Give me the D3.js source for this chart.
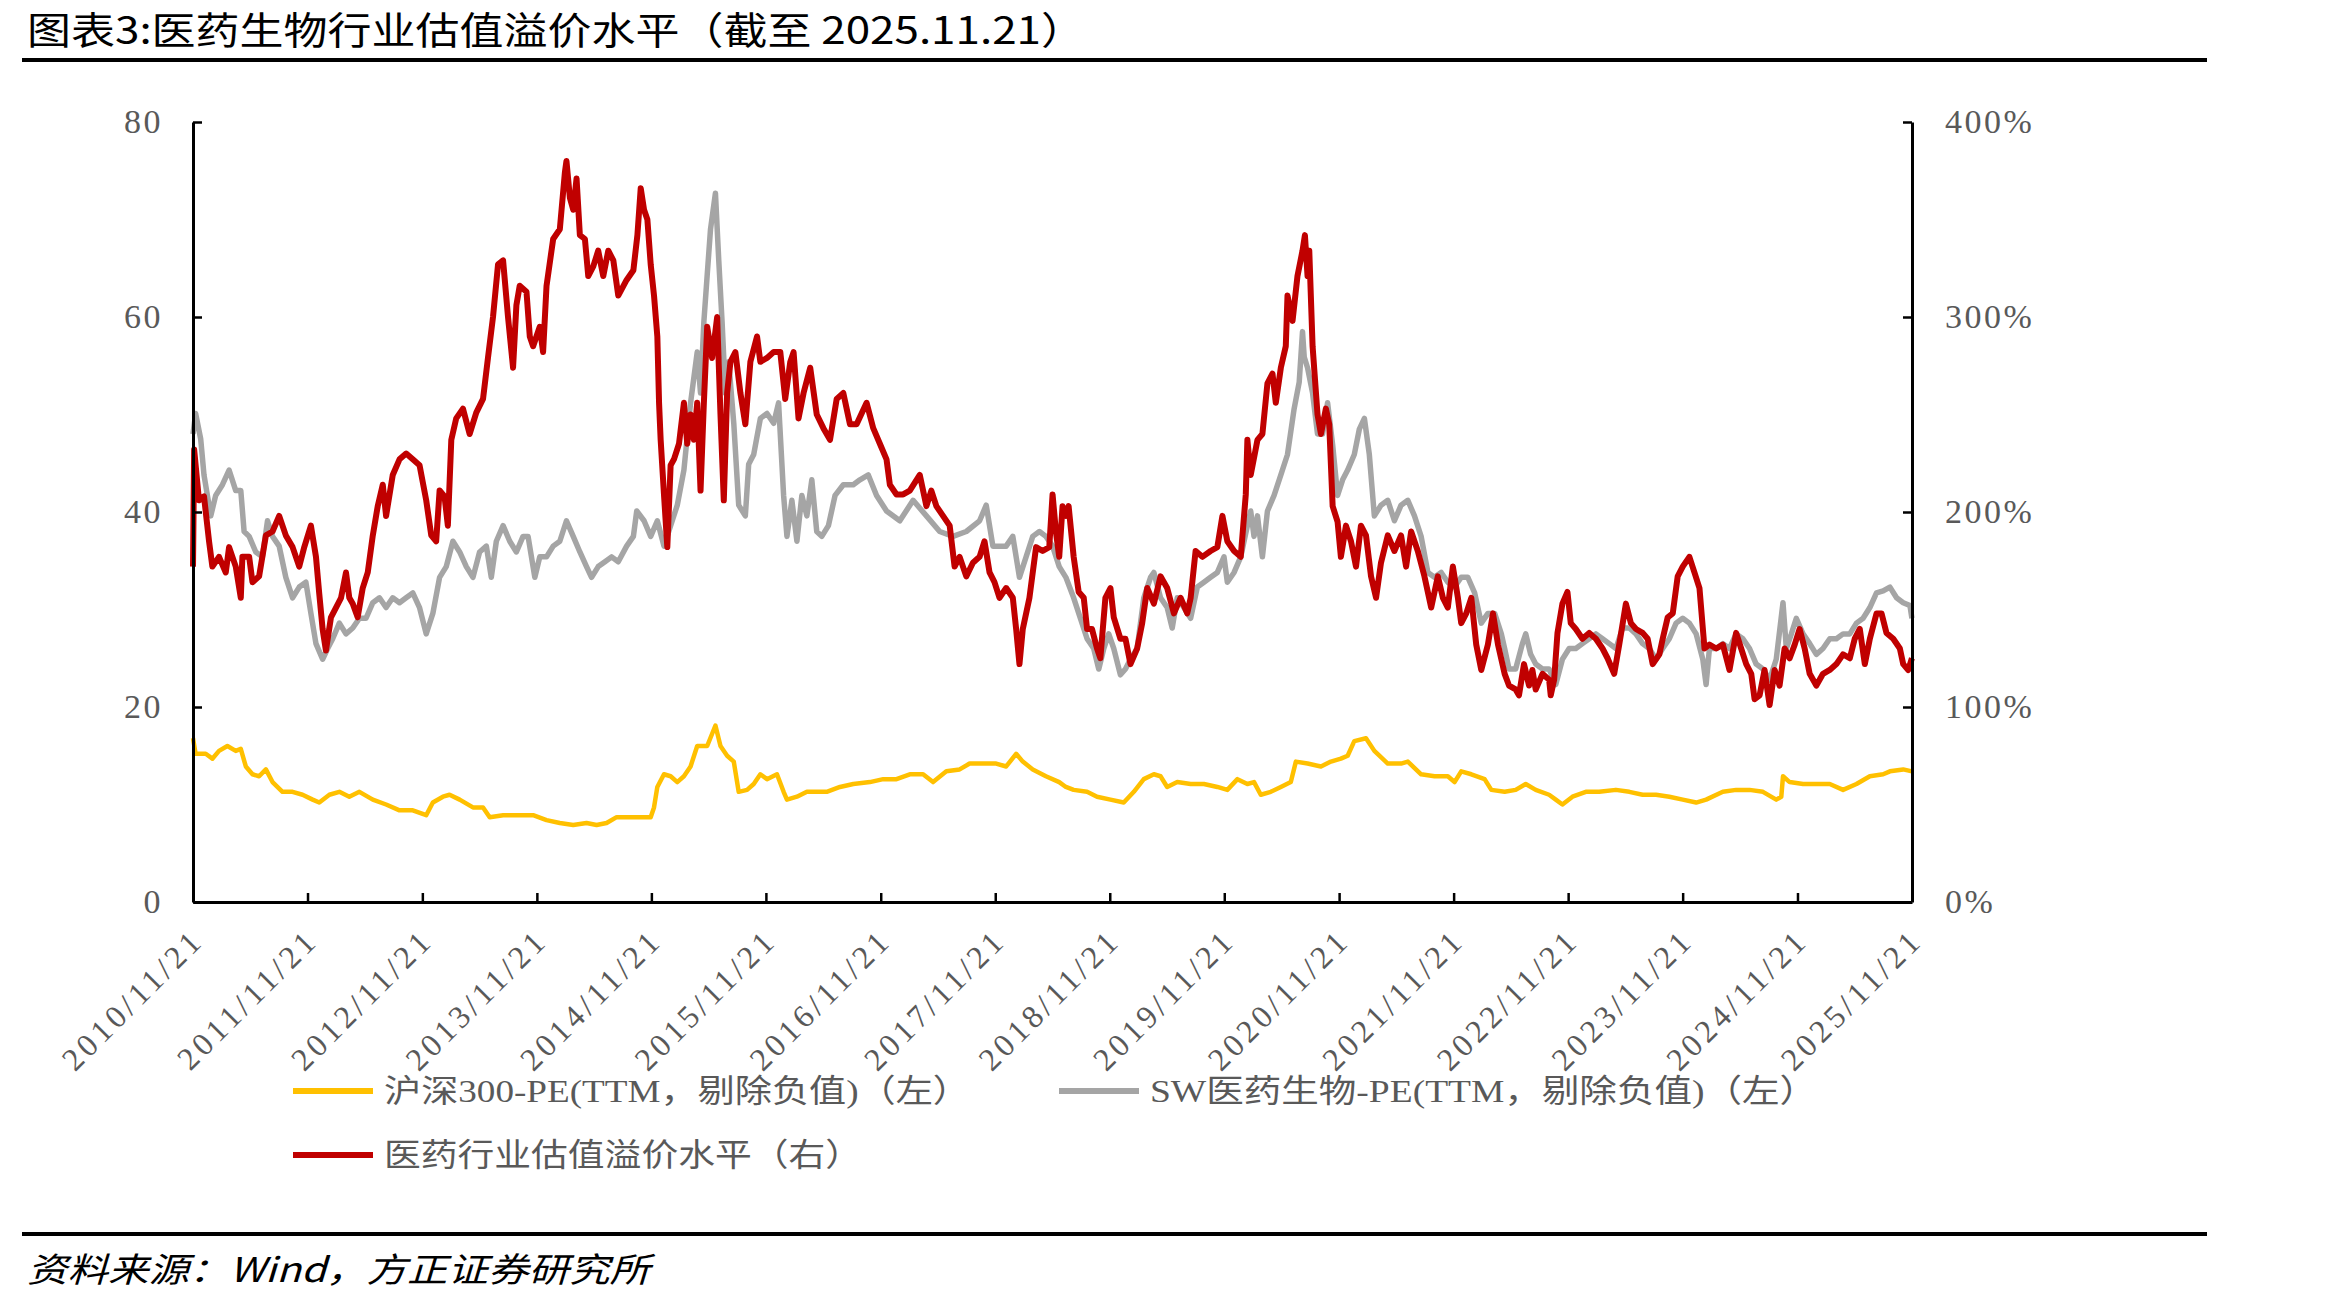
<!DOCTYPE html>
<html><head><meta charset="utf-8">
<script src="https://cdn.jsdelivr.net/npm/d3@7"></script>
<style>
html,body{margin:0;padding:0;background:#fff;}
svg{display:block;}
</style></head>
<body>
<svg id="chart" width="2333" height="1305"></svg>
<script>
// ---------------- DATA ----------------
const titleText = "图表3:医药生物行业估值溢价水平（截至 2025.11.21）";
const sourceText = "资料来源：Wind，方正证券研究所";
const xTickLabels = ["2010/11/21","2011/11/21","2012/11/21","2013/11/21","2014/11/21","2015/11/21","2016/11/21","2017/11/21","2018/11/21","2019/11/21","2020/11/21","2021/11/21","2022/11/21","2023/11/21","2024/11/21","2025/11/21"];
const leftTicks = [0, 20, 40, 60, 80];
const rightTicks = [0, 100, 200, 300, 400];
const legendNames = ["沪深300-PE(TTM，剔除负值)（左）", "SW医药生物-PE(TTM，剔除负值)（左）", "医药行业估值溢价水平（右）"];

// each point: [years since 2010/11/21, value]
// 沪深300-PE (left axis)
const hs300PE = [[0,16.8],[0.023,15.2],[0.111,15.2],[0.169,14.7],[0.227,15.5],[0.300,16.0],[0.373,15.5],[0.417,15.7],[0.461,13.9],[0.519,13.1],[0.577,12.9],[0.636,13.6],[0.694,12.3],[0.781,11.3],[0.869,11.3],[0.956,11.0],[1.044,10.5],[1.102,10.2],[1.190,11.0],[1.277,11.3],[1.364,10.8],[1.452,11.3],[1.569,10.5],[1.685,10.0],[1.802,9.4],[1.918,9.4],[2.035,8.9],[2.093,10.2],[2.181,10.8],[2.239,11.0],[2.327,10.5],[2.443,9.7],[2.531,9.7],[2.589,8.7],[2.706,8.9],[2.822,8.9],[2.968,8.9],[3.085,8.4],[3.201,8.1],[3.318,7.9],[3.434,8.1],[3.522,7.9],[3.609,8.1],[3.697,8.7],[3.784,8.7],[3.872,8.7],[3.994,8.7],[4.023,9.7],[4.052,11.8],[4.110,13.1],[4.168,12.9],[4.226,12.3],[4.284,12.9],[4.342,13.9],[4.400,16.0],[4.487,16.0],[4.559,18.1],[4.603,16.0],[4.661,15.0],[4.719,14.4],[4.762,11.3],[4.835,11.5],[4.893,12.1],[4.951,13.1],[5.009,12.6],[5.096,13.1],[5.154,11.3],[5.183,10.5],[5.270,10.8],[5.357,11.3],[5.443,11.3],[5.530,11.3],[5.646,11.8],[5.762,12.1],[5.907,12.3],[6.023,12.6],[6.139,12.6],[6.255,13.1],[6.371,13.1],[6.458,12.3],[6.574,13.4],[6.690,13.6],[6.777,14.2],[6.893,14.2],[7.009,14.2],[7.096,13.9],[7.183,15.2],[7.241,14.4],[7.328,13.6],[7.443,12.9],[7.559,12.3],[7.617,11.8],[7.685,11.5],[7.802,11.3],[7.889,10.8],[8.006,10.5],[8.122,10.2],[8.210,11.3],[8.297,12.6],[8.385,13.1],[8.443,12.9],[8.501,11.8],[8.589,12.3],[8.706,12.1],[8.822,12.1],[8.939,11.8],[9.026,11.5],[9.114,12.6],[9.201,12.1],[9.259,12.3],[9.318,11.0],[9.405,11.3],[9.493,11.8],[9.580,12.3],[9.624,14.4],[9.726,14.2],[9.843,13.9],[9.930,14.4],[10.017,14.7],[10.076,15.0],[10.134,16.5],[10.236,16.8],[10.309,15.5],[10.426,14.2],[10.542,14.2],[10.601,14.4],[10.717,13.1],[10.834,12.9],[10.950,12.9],[11.009,12.3],[11.067,13.4],[11.155,13.1],[11.271,12.6],[11.330,11.5],[11.446,11.3],[11.542,11.5],[11.630,12.1],[11.717,11.5],[11.834,11.0],[11.892,10.5],[11.950,10.0],[12.038,10.8],[12.154,11.3],[12.271,11.3],[12.417,11.5],[12.534,11.3],[12.650,11.0],[12.767,11.0],[12.883,10.8],[13.000,10.5],[13.117,10.2],[13.204,10.5],[13.350,11.3],[13.466,11.5],[13.583,11.5],[13.700,11.3],[13.816,10.5],[13.860,10.8],[13.875,12.9],[13.933,12.3],[14.050,12.1],[14.166,12.1],[14.283,12.1],[14.399,11.5],[14.516,12.1],[14.633,12.9],[14.749,13.1],[14.808,13.4],[14.924,13.6],[15.0,13.4]];

// SW医药生物-PE (left axis)
const swPharmaPE = [[0,48.0],[0.023,50.1],[0.067,47.5],[0.096,43.8],[0.155,39.6],[0.198,41.7],[0.257,42.8],[0.315,44.3],[0.373,42.2],[0.417,42.2],[0.446,38.0],[0.490,37.5],[0.548,35.9],[0.606,35.4],[0.650,39.1],[0.694,37.5],[0.752,36.5],[0.810,33.3],[0.869,31.2],[0.927,32.3],[0.985,32.8],[1.029,29.6],[1.073,26.5],[1.131,24.9],[1.175,26.0],[1.219,27.0],[1.277,28.6],[1.335,27.5],[1.394,28.1],[1.452,29.1],[1.510,29.1],[1.569,30.7],[1.627,31.2],[1.685,30.2],[1.743,31.2],[1.802,30.7],[1.860,31.2],[1.918,31.7],[1.977,30.2],[2.035,27.5],[2.093,29.6],[2.152,33.3],[2.210,34.4],[2.268,37.0],[2.327,35.9],[2.385,34.4],[2.443,33.3],[2.501,35.9],[2.560,36.5],[2.603,33.3],[2.647,37.0],[2.706,38.6],[2.764,37.0],[2.822,35.9],[2.880,37.5],[2.924,37.5],[2.983,33.3],[3.026,35.4],[3.085,35.4],[3.143,36.5],[3.201,37.0],[3.259,39.1],[3.318,37.5],[3.376,35.9],[3.434,34.4],[3.478,33.3],[3.536,34.4],[3.595,34.9],[3.653,35.4],[3.711,34.9],[3.784,36.5],[3.843,37.5],[3.872,40.1],[3.936,39.1],[3.994,37.5],[4.052,39.1],[4.110,36.5],[4.168,38.6],[4.226,40.7],[4.284,44.3],[4.342,51.2],[4.400,56.4],[4.429,52.2],[4.458,59.5],[4.487,64.3],[4.516,69.0],[4.559,72.7],[4.588,65.8],[4.617,59.5],[4.646,52.2],[4.675,55.4],[4.719,49.1],[4.762,40.7],[4.820,39.6],[4.849,44.9],[4.893,45.9],[4.951,49.6],[5.009,50.1],[5.067,49.1],[5.110,51.2],[5.154,41.7],[5.183,37.5],[5.226,41.2],[5.270,37.0],[5.313,41.7],[5.357,39.6],[5.400,43.3],[5.443,38.0],[5.487,37.5],[5.545,38.6],[5.603,41.7],[5.675,42.8],[5.762,42.8],[5.820,43.3],[5.893,43.8],[5.965,41.7],[6.052,40.1],[6.168,39.1],[6.284,41.2],[6.400,39.6],[6.516,38.0],[6.632,37.5],[6.748,38.0],[6.864,39.1],[6.922,40.7],[6.980,36.5],[7.096,36.5],[7.154,37.5],[7.212,33.3],[7.270,35.4],[7.328,37.5],[7.386,38.0],[7.443,37.5],[7.501,36.5],[7.559,34.4],[7.617,33.3],[7.685,31.2],[7.744,29.1],[7.802,27.0],[7.860,26.0],[7.904,23.9],[7.948,26.0],[7.991,27.5],[8.035,26.0],[8.093,23.3],[8.137,23.9],[8.181,24.9],[8.239,26.0],[8.297,31.2],[8.356,33.3],[8.385,33.8],[8.443,31.2],[8.501,30.2],[8.545,28.1],[8.589,31.2],[8.647,30.2],[8.706,29.1],[8.764,32.3],[8.822,32.8],[8.880,33.3],[8.939,33.8],[8.997,35.4],[9.026,32.8],[9.085,33.8],[9.143,35.4],[9.201,38.6],[9.230,40.1],[9.259,37.5],[9.289,39.6],[9.332,35.4],[9.376,40.1],[9.434,41.7],[9.493,43.8],[9.551,45.9],[9.609,50.6],[9.653,53.3],[9.682,58.5],[9.697,55.9],[9.726,54.8],[9.770,52.2],[9.813,48.0],[9.857,48.0],[9.901,51.2],[9.945,46.9],[9.988,41.7],[10.032,43.3],[10.076,44.3],[10.134,45.9],[10.178,48.5],[10.222,49.6],[10.265,45.9],[10.309,39.6],[10.367,40.7],[10.426,41.2],[10.484,39.1],[10.542,40.7],[10.601,41.2],[10.659,39.6],[10.717,37.5],[10.776,33.8],[10.834,33.3],[10.892,33.8],[10.950,32.8],[11.009,32.3],[11.067,33.3],[11.125,33.3],[11.184,31.7],[11.242,28.6],[11.300,29.6],[11.359,29.6],[11.417,27.5],[11.446,26.0],[11.484,23.9],[11.542,23.9],[11.601,26.5],[11.630,27.5],[11.673,25.4],[11.717,24.4],[11.776,23.9],[11.834,23.9],[11.892,22.3],[11.950,24.9],[12.009,26.0],[12.067,26.0],[12.125,26.5],[12.184,27.0],[12.242,27.5],[12.300,27.0],[12.359,26.5],[12.417,26.0],[12.475,28.1],[12.534,28.1],[12.592,27.5],[12.650,26.5],[12.708,26.0],[12.767,24.9],[12.825,26.0],[12.883,27.0],[12.942,28.6],[13.000,29.1],[13.058,28.6],[13.117,27.5],[13.175,24.9],[13.204,22.3],[13.233,26.0],[13.292,26.0],[13.350,26.5],[13.408,26.0],[13.466,27.5],[13.525,27.0],[13.583,26.0],[13.641,24.4],[13.700,23.9],[13.758,22.8],[13.816,24.9],[13.875,30.7],[13.904,26.0],[13.948,27.5],[13.991,29.1],[14.050,27.5],[14.108,26.5],[14.166,25.4],[14.224,26.0],[14.283,27.0],[14.341,27.0],[14.399,27.5],[14.458,27.5],[14.516,28.6],[14.574,29.1],[14.633,30.2],[14.691,31.7],[14.749,31.9],[14.808,32.3],[14.866,31.2],[14.924,30.7],[14.983,30.4],[15.0,29.1]];

// 医药行业估值溢价水平 (right axis, %)
const pharmaPremium = [[0,172],[0.01,232],[0.052,206],[0.096,208],[0.140,185],[0.169,172],[0.227,177],[0.286,169],[0.315,182],[0.373,172],[0.417,156],[0.431,177],[0.490,177],[0.519,164],[0.577,167],[0.636,188],[0.694,190],[0.752,198],[0.810,188],[0.869,182],[0.927,172],[0.971,182],[1.029,193],[1.073,177],[1.102,158],[1.131,140],[1.160,129],[1.204,146],[1.248,151],[1.292,156],[1.335,169],[1.364,156],[1.394,153],[1.437,146],[1.481,161],[1.525,169],[1.569,188],[1.612,203],[1.656,214],[1.685,198],[1.743,219],[1.802,227],[1.860,230],[1.918,227],[1.977,224],[2.035,206],[2.079,188],[2.122,185],[2.152,211],[2.195,208],[2.224,193],[2.254,237],[2.297,248],[2.356,253],[2.414,240],[2.472,251],[2.531,258],[2.574,279],[2.618,300],[2.662,327],[2.706,329],[2.749,300],[2.793,274],[2.822,306],[2.851,316],[2.910,313],[2.939,290],[2.968,285],[3.026,295],[3.055,282],[3.085,316],[3.143,340],[3.201,345],[3.245,374],[3.259,380],[3.289,361],[3.318,355],[3.347,371],[3.376,342],[3.420,340],[3.449,321],[3.493,326],[3.536,334],[3.580,321],[3.624,334],[3.668,329],[3.711,311],[3.784,319],[3.843,324],[3.878,342],[3.907,366],[3.936,355],[3.965,350],[3.994,327],[4.023,311],[4.052,290],[4.067,256],[4.081,237],[4.110,209],[4.139,182],[4.168,224],[4.197,227],[4.241,235],[4.284,256],[4.313,235],[4.342,250],[4.371,237],[4.400,256],[4.429,211],[4.458,256],[4.487,295],[4.530,279],[4.574,300],[4.603,250],[4.632,206],[4.661,261],[4.690,277],[4.733,282],[4.777,261],[4.820,245],[4.864,277],[4.922,290],[4.951,277],[5.009,279],[5.067,282],[5.125,282],[5.168,258],[5.212,277],[5.241,282],[5.284,248],[5.328,261],[5.386,274],[5.443,250],[5.501,243],[5.559,237],[5.617,258],[5.675,261],[5.733,245],[5.791,245],[5.878,256],[5.936,243],[5.994,235],[6.052,227],[6.081,214],[6.139,209],[6.197,209],[6.255,211],[6.342,219],[6.400,203],[6.443,211],[6.487,203],[6.545,198],[6.603,193],[6.646,172],[6.690,177],[6.748,167],[6.806,174],[6.864,177],[6.907,185],[6.951,169],[6.994,164],[7.038,156],[7.096,161],[7.154,156],[7.183,140],[7.212,122],[7.241,140],[7.299,156],[7.357,182],[7.414,180],[7.472,182],[7.501,209],[7.530,190],[7.559,177],[7.588,203],[7.617,198],[7.641,203],[7.685,177],[7.729,159],[7.773,156],[7.802,140],[7.845,140],[7.889,130],[7.918,125],[7.962,156],[8.006,161],[8.035,146],[8.093,135],[8.137,135],[8.181,122],[8.239,130],[8.283,143],[8.327,161],[8.385,153],[8.443,167],[8.501,161],[8.560,148],[8.618,156],[8.676,148],[8.706,156],[8.749,180],[8.808,177],[8.880,180],[8.939,182],[8.983,198],[9.026,185],[9.085,180],[9.143,177],[9.187,209],[9.201,237],[9.230,219],[9.289,237],[9.332,240],[9.376,266],[9.420,271],[9.449,256],[9.493,274],[9.536,285],[9.551,311],[9.595,298],[9.638,321],[9.682,334],[9.703,342],[9.726,321],[9.741,334],[9.770,285],[9.813,250],[9.843,240],[9.886,253],[9.915,245],[9.945,203],[9.988,195],[10.017,177],[10.061,193],[10.105,185],[10.149,172],[10.192,193],[10.236,188],[10.280,167],[10.324,156],[10.367,174],[10.426,188],[10.484,180],[10.542,188],[10.586,172],[10.630,190],[10.688,180],[10.746,167],[10.805,151],[10.863,167],[10.907,156],[10.950,151],[10.994,172],[11.038,156],[11.067,143],[11.111,148],[11.155,156],[11.198,132],[11.242,119],[11.300,132],[11.344,148],[11.388,132],[11.446,117],[11.484,111],[11.542,109],[11.571,106],[11.615,122],[11.659,111],[11.688,119],[11.717,109],[11.776,117],[11.834,114],[11.848,106],[11.878,114],[11.907,138],[11.950,153],[11.994,159],[12.023,143],[12.067,140],[12.125,135],[12.184,138],[12.242,135],[12.300,130],[12.344,125],[12.402,117],[12.446,132],[12.504,153],[12.548,143],[12.592,140],[12.650,138],[12.694,135],[12.738,122],[12.796,127],[12.825,135],[12.869,146],[12.913,148],[12.956,167],[13.000,172],[13.058,177],[13.102,169],[13.146,161],[13.190,130],[13.233,132],[13.292,130],[13.350,132],[13.408,119],[13.466,138],[13.510,130],[13.554,122],[13.598,117],[13.627,104],[13.671,106],[13.714,119],[13.758,101],[13.802,119],[13.845,111],[13.889,130],[13.933,125],[13.977,132],[14.020,140],[14.064,130],[14.108,117],[14.166,111],[14.224,117],[14.283,119],[14.341,122],[14.399,127],[14.458,125],[14.501,135],[14.545,140],[14.589,122],[14.633,135],[14.691,148],[14.735,148],[14.778,138],[14.837,135],[14.895,130],[14.924,122],[14.968,119],[15.0,125]];

// ---------------- DRAW ----------------
const svg = d3.select("#chart");
const plot = {left: 193, right: 1912, top: 122, bottom: 902};
const colors = {hs: "#FFC000", sw: "#A5A5A5", pr: "#C00000"};
const txtGray = "#595959";
const serif = "'Liberation Serif','Times New Roman','Noto Sans CJK SC',serif";
const cjk = "'Noto Sans CJK SC','Noto Sans',sans-serif";

const parse = d3.timeParse("%Y/%m/%d");
const tickDates = xTickLabels.map(parse);
const start = tickDates[0];
const toDate = t => new Date(start.getTime() + t * 365.25 * 86400000);

const x = d3.scaleTime().domain([tickDates[0], tickDates[tickDates.length - 1]]).range([plot.left, plot.right]);
const yL = d3.scaleLinear().domain([0, 80]).range([plot.bottom, plot.top]);
const yR = d3.scaleLinear().domain([0, 400]).range([plot.bottom, plot.top]);

// Title & rules
svg.append("text").attr("x", 27).attr("y", 44)
  .attr("font-family", cjk).attr("font-size", 38).attr("fill", "#000")
  .attr("textLength", 1058).attr("lengthAdjust", "spacingAndGlyphs")
  .text(titleText);
svg.append("rect").attr("x", 22).attr("y", 58).attr("width", 2185).attr("height", 4).attr("fill", "#000");
svg.append("rect").attr("x", 22).attr("y", 1232).attr("width", 2185).attr("height", 4).attr("fill", "#000");
svg.append("text").attr("x", 27).attr("y", 1282)
  .attr("font-family", cjk).attr("font-size", 34).attr("font-style", "italic").attr("fill", "#000")
  .attr("textLength", 623).attr("lengthAdjust", "spacingAndGlyphs")
  .text(sourceText);

// Lines
const lineL = d3.line().x(d => x(toDate(d[0]))).y(d => yL(d[1]));
const lineR = d3.line().x(d => x(toDate(d[0]))).y(d => yR(d[1]));
const g = svg.append("g");
g.append("path").datum(hs300PE).attr("d", lineL).attr("fill", "none")
  .attr("stroke", colors.hs).attr("stroke-width", 4.5).attr("stroke-linejoin", "round");
g.append("path").datum(swPharmaPE).attr("d", lineL).attr("fill", "none")
  .attr("stroke", colors.sw).attr("stroke-width", 5.5).attr("stroke-linejoin", "round");
g.append("path").datum(pharmaPremium).attr("d", lineR).attr("fill", "none")
  .attr("stroke", colors.pr).attr("stroke-width", 6).attr("stroke-linejoin", "round");

// Axes
function styleAxis(sel) {
  sel.select(".domain").attr("stroke", "#000").attr("stroke-width", 3);
  sel.selectAll(".tick line").attr("stroke", "#000").attr("stroke-width", 2.5);
  sel.selectAll(".tick text").attr("fill", txtGray).attr("font-family", serif).attr("font-size", 34).attr("letter-spacing", 2.5);
}
const axL = svg.append("g").attr("transform", `translate(${plot.left},0)`)
  .call(d3.axisLeft(yL).tickValues(leftTicks).tickSize(-9).tickSizeOuter(0).tickPadding(30).tickFormat(d3.format("d")));
styleAxis(axL);
const axR = svg.append("g").attr("transform", `translate(${plot.right},0)`)
  .call(d3.axisRight(yR).tickValues(rightTicks).tickSize(-9).tickSizeOuter(0).tickPadding(33).tickFormat(d => d + "%"));
styleAxis(axR);
const axB = svg.append("g").attr("transform", `translate(0,${plot.bottom})`)
  .call(d3.axisBottom(x).tickValues(tickDates).tickSize(-9).tickSizeOuter(0).tickFormat((d, i) => xTickLabels[i]));
styleAxis(axB);
axB.selectAll(".tick text")
  .attr("font-size", 32).attr("letter-spacing", 4)
  .attr("text-anchor", "end").attr("dy", null).attr("y", null)
  .attr("transform", "translate(12,40) rotate(-45)");

// Legend
const legendItems = [
  {name: legendNames[0], color: colors.hs, x: 293, y: 1091, len: 586},
  {name: legendNames[1], color: colors.sw, x: 1059, y: 1091, len: 667},
  {name: legendNames[2], color: colors.pr, x: 293, y: 1155, len: 478}
];
const lg = svg.append("g");
legendItems.forEach(it => {
  lg.append("line").attr("x1", it.x).attr("x2", it.x + 80).attr("y1", it.y).attr("y2", it.y)
    .attr("stroke", it.color).attr("stroke-width", 6);
  lg.append("text").attr("x", it.x + 91).attr("y", it.y + 11)
    .attr("font-family", serif).attr("font-size", 32).attr("fill", txtGray)
    .attr("textLength", it.len).attr("lengthAdjust", "spacingAndGlyphs")
    .text(it.name);
});
</script>
</body></html>
